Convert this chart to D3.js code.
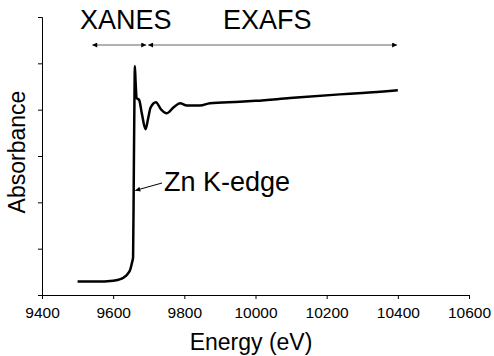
<!DOCTYPE html>
<html>
<head>
<meta charset="utf-8">
<script src="https://cdn.jsdelivr.net/npm/d3@7"></script>
<style>
  body { margin: 0; background: #fff; }
  text { font-family: Arial, "Liberation Sans", sans-serif; fill: #000; }
</style>
</head>
<body>
<svg id="chart" width="494" height="356"></svg>
<script>
// spectrum (energy in eV, absorbance in arbitrary units)
const energy = [9500, 9550, 9600, 9615, 9630, 9640, 9648, 9653, 9656, 9658, 9660, 9661, 9663, 9666,
    9673, 9681, 9691, 9698, 9705, 9720, 9735, 9750, 9770, 9788, 9807, 9844, 9872, 9956, 10000,
    10097, 10237, 10300, 10400];
const absorbance = [0.29, 0.29, 0.31, 0.33, 0.38, 0.45, 0.55, 0.70, 0.82, 2.6, 4.4, 4.94, 4.6, 4.25,
    4.21, 3.9, 3.58, 3.8, 4.04, 4.16, 4.0, 3.92, 4.05, 4.14, 4.09, 4.09, 4.14, 4.17, 4.19,
    4.25, 4.33, 4.36, 4.42];
const xTicks = [9400, 9600, 9800, 10000, 10200, 10400, 10600];
const yTicks = [0, 1, 2, 3, 4, 5, 6];

// regions marked above the curve
const regions = [
    { name: 'XANES', from: 9541, to: 9693 },
    { name: 'EXAFS', from: 9698, to: 10398 }
];
const edgeLabel = 'Zn K-edge';

const margin = { top: 17, right: 25, bottom: 61, left: 42 };
const width = 494 - margin.left - margin.right;
const height = 356 - margin.top - margin.bottom;

const svg = d3.select('#chart');
const g = svg.append('g').attr('transform', `translate(${margin.left},${margin.top})`);

const x = d3.scaleLinear().domain([9400, 10600]).range([0, width]);
const y = d3.scaleLinear().domain([0, 6]).range([height, 0]);

// arrow markers
const defs = svg.append('defs');
defs.append('marker')
    .attr('id', 'head')
    .attr('viewBox', '0 0 10 10')
    .attr('refX', 10).attr('refY', 5)
    .attr('markerWidth', 6).attr('markerHeight', 5)
    .attr('markerUnits', 'userSpaceOnUse')
    .attr('orient', 'auto-start-reverse')
    .append('path').attr('d', 'M0,0 L10,5 L0,10 z').attr('fill', '#000');

// axes
const xAxis = g.append('g')
    .attr('transform', `translate(0,${height})`)
    .call(d3.axisBottom(x).tickValues(xTicks).tickSize(4).tickPadding(8).tickFormat(d3.format('d')));
xAxis.selectAll('text').style('font-size', '15.5px').attr('fill', '#000');

const yAxis = g.append('g')
    .call(d3.axisLeft(y).tickValues(yTicks).tickSize(4).tickFormat(''));

[xAxis, yAxis].forEach(a => {
    a.select('.domain').attr('stroke', '#000');
    a.selectAll('.tick line').attr('stroke', '#000');
});

// the spectrum
const line = d3.line()
    .x((d, i) => x(energy[i]))
    .y(d => y(d))
    .curve(d3.curveMonotoneX);

g.append('path')
    .datum(absorbance)
    .attr('fill', 'none')
    .attr('stroke', '#000')
    .attr('stroke-width', 2.5)
    .attr('stroke-linejoin', 'round')
    .attr('d', line);

// region arrows and labels
const arrowY = 28;
regions.forEach(r => {
    g.append('line')
        .attr('x1', x(r.from)).attr('x2', x(r.to))
        .attr('y1', arrowY).attr('y2', arrowY)
        .attr('stroke', '#999')
        .attr('stroke-width', 1.5)
        .attr('marker-start', 'url(#head)')
        .attr('marker-end', 'url(#head)');
});
g.append('text')
    .attr('x', 38).attr('y', 12)
    .style('font-size', '27px')
    .text(regions[0].name);
g.append('text')
    .attr('x', 181).attr('y', 12)
    .style('font-size', '27px')
    .text(regions[1].name);

// edge annotation
g.append('line')
    .attr('x1', 120).attr('y1', 166)
    .attr('x2', x(9662)).attr('y2', 173.5)
    .attr('stroke', '#000')
    .attr('stroke-width', 1)
    .attr('marker-end', 'url(#head)');
g.append('text')
    .attr('x', 122).attr('y', 173.5)
    .style('font-size', '27px')
    .text(edgeLabel);

// axis titles
svg.append('text')
    .attr('x', 251).attr('y', 350)
    .attr('text-anchor', 'middle')
    .style('font-size', '23px')
    .text('Energy (eV)');
svg.append('text')
    .attr('transform', 'translate(25,152) rotate(-90)')
    .attr('text-anchor', 'middle')
    .style('font-size', '23px')
    .text('Absorbance');
</script>
</body>
</html>
